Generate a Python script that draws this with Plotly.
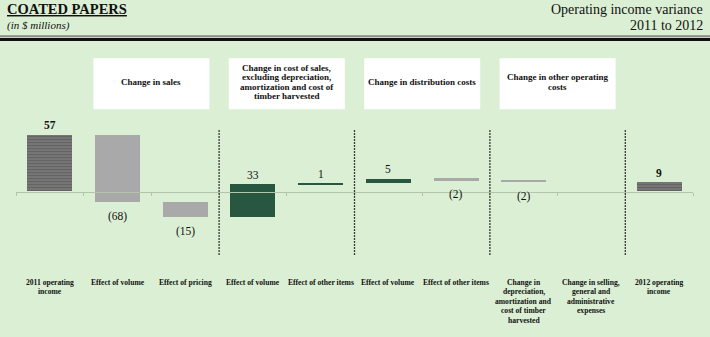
import plotly.graph_objects as go

# ---------------- data ----------------
categories = [
    "2011 operating<br>income",
    "Effect of volume",
    "Effect of pricing",
    "Effect of volume",
    "Effect of other items",
    "Effect of volume",
    "Effect of other items",
    "Change in<br>depreciation,<br>amortization and<br>cost of timber<br>harvested",
    "Change in selling,<br>general and<br>administrative<br>expenses",
    "2012 operating<br>income",
]
values = [57, -68, -15, 33, 1, 5, -2, -2, 0, 9]
is_total = [True, False, False, False, False, False, False, False, False, True]
value_labels = ["57", "(68)", "(15)", "33", "1", "5", "(2)", "(2)", "", "9"]

group_titles = [
    "Change in sales",
    "Change in cost of sales,<br>excluding depreciation,<br>amortization and cost of<br>timber harvested",
    "Change in distribution costs",
    "Change in other operating<br>costs",
]
group_centers = [1.5, 3.5, 5.5, 7.5]   # category positions (x data units)
group_dividers = [2.5, 4.5, 6.5, 8.5]

# ---------------- geometry helpers ----------------
W, H = 710, 337
def py(px):
    return (H - px) / H
def pxx(px):
    return px / W

ZERO_PX = 191.5
SCALE = 0.99  # px per unit
Y_RANGE = [-60, 60]
y_dom = [py(ZERO_PX - Y_RANGE[0] * SCALE), py(ZERO_PX - Y_RANGE[1] * SCALE)]

# ---------------- waterfall computation ----------------
bases, heights = [], []
running = 0
for v, t in zip(values, is_total):
    if t:
        bases.append(0)
        heights.append(v)
        running = v
    else:
        bases.append(running)
        heights.append(v)
        running += v

x = list(range(len(values)))
BAR_W = 0.665
FONT = "Liberation Serif"

fig = go.Figure()

tot_idx = [i for i in x if is_total[i]]
pos_idx = [i for i in x if not is_total[i] and values[i] > 0]
neg_idx = [i for i in x if not is_total[i] and values[i] < 0]

fig.add_trace(go.Bar(
    x=tot_idx, y=[heights[i] for i in tot_idx], base=[bases[i] for i in tot_idx],
    width=BAR_W, marker=dict(color="#767676", line=dict(width=0),
                             pattern=dict(shape="-", fgcolor="#4a4a4a", bgcolor="#7a7a7a",
                                          size=3, solidity=0.45)),
    hoverinfo="skip", showlegend=False))
fig.add_trace(go.Bar(
    x=pos_idx, y=[heights[i] for i in pos_idx], base=[bases[i] for i in pos_idx],
    width=BAR_W, marker=dict(color="#275741", line=dict(width=0)),
    hoverinfo="skip", showlegend=False))
fig.add_trace(go.Bar(
    x=neg_idx, y=[heights[i] for i in neg_idx], base=[bases[i] for i in neg_idx],
    width=BAR_W, marker=dict(color="#a9a9a9", line=dict(width=0)),
    hoverinfo="skip", showlegend=False))

annotations = []
# value labels
for i in x:
    if not value_labels[i]:
        continue
    top = max(bases[i], bases[i] + heights[i])
    bot = min(bases[i], bases[i] + heights[i])
    bold = is_total[i]
    txt = f"<b>{value_labels[i]}</b>" if bold else value_labels[i]
    if values[i] >= 0:
        annotations.append(dict(x=i, y=top, xref="x", yref="y", text=txt, showarrow=False,
                                yanchor="middle", yshift=10,
                                font=dict(family=FONT, size=11.5, color="#111")))
    else:
        annotations.append(dict(x=i, y=bot, xref="x", yref="y", text=txt, showarrow=False,
                                yanchor="middle", yshift=-14,
                                font=dict(family=FONT, size=11.5, color="#111")))

# category labels (line by line)
for i, c in enumerate(categories):
    for j, line in enumerate(c.split("<br>")):
        annotations.append(dict(x=i, y=py(282.3 + j * 9.5), xref="x", yref="paper",
                                text=f"<b>{line}</b>", showarrow=False, yanchor="middle",
                                font=dict(family=FONT, size=7.6, color="#111")))

shapes = []
BOX_W = 116 / 67.7
for g, gc in zip(group_titles, group_centers):
    shapes.append(dict(type="rect", xref="x", yref="paper",
                       x0=gc - BOX_W / 2, x1=gc + BOX_W / 2, y0=py(109.3), y1=py(58.3),
                       fillcolor="white", line=dict(width=0), layer="below"))
    lines = g.split("<br>")
    n = len(lines)
    for j, line in enumerate(lines):
        annotations.append(dict(x=gc, y=py(82 + (j - (n - 1) / 2) * 9.4), xref="x", yref="paper",
                                text=f"<b>{line}</b>", showarrow=False, yanchor="middle",
                                font=dict(family=FONT, size=9, color="#111")))

for d in group_dividers:
    shapes.append(dict(type="line", xref="x", yref="paper", x0=d, x1=d,
                       y0=py(255), y1=py(129), line=dict(color="#3a3a3a", width=1.3, dash="2px,1px")))

# header separator
shapes.append(dict(type="line", xref="paper", yref="paper", x0=0, x1=1, y0=py(36.3), y1=py(36.3),
                   line=dict(color="#8a8a8a", width=2)))
shapes.append(dict(type="line", xref="paper", yref="paper", x0=0, x1=1, y0=py(39.6), y1=py(39.6),
                   line=dict(color="#111111", width=3)))

# titles
annotations += [
    dict(x=pxx(5), y=py(8.5), xref="paper", yref="paper", xanchor="left", yanchor="middle",
         text="<b><u>COATED PAPERS</u></b>", showarrow=False,
         font=dict(family=FONT, size=14.5, color="#111")),
    dict(x=pxx(5), y=py(25.5), xref="paper", yref="paper", xanchor="left", yanchor="middle",
         text="<i>(in $ millions)</i>", showarrow=False,
         font=dict(family=FONT, size=11, color="#111")),
    dict(x=pxx(705), y=py(9), xref="paper", yref="paper", xanchor="right", yanchor="middle",
         text="Operating income variance", showarrow=False,
         font=dict(family=FONT, size=14, color="#111")),
    dict(x=pxx(705), y=py(25), xref="paper", yref="paper", xanchor="right", yanchor="middle",
         text="2011 to 2012", showarrow=False,
         font=dict(family=FONT, size=14, color="#111")),
]

fig.update_layout(
    width=W, height=H, autosize=False,
    margin=dict(l=0, r=0, t=0, b=0, pad=0),
    paper_bgcolor="#dbefd4", plot_bgcolor="rgba(0,0,0,0)",
    barmode="overlay", bargap=0,
    showlegend=False,
    xaxis=dict(domain=[pxx(16), pxx(693)], range=[-0.5, 9.5], anchor="free",
               position=py(ZERO_PX), showline=True, linecolor="#b2c5aa", linewidth=1,
               ticks="outside", ticklen=3, tickcolor="#b2c5aa", tickwidth=1,
               tickvals=[k - 0.5 for k in range(11)], showticklabels=False,
               showgrid=False, zeroline=False, fixedrange=True),
    yaxis=dict(domain=y_dom, range=Y_RANGE, visible=False, showgrid=False,
               zeroline=False, fixedrange=True),
    annotations=annotations, shapes=shapes,
)

fig.write_html("out.html", config={"displayModeBar": False})
